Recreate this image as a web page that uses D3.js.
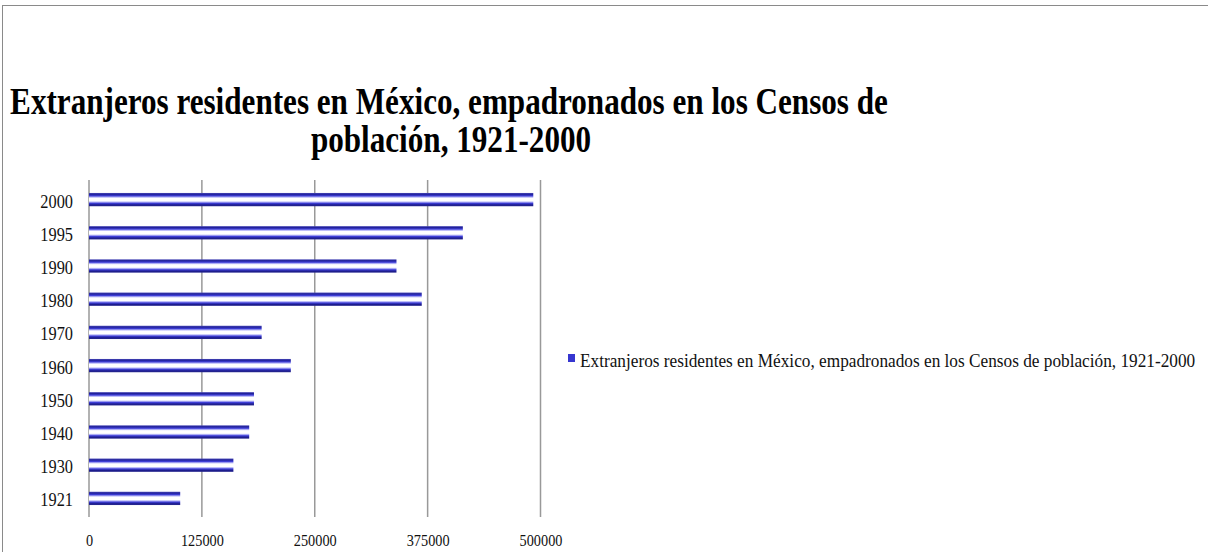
<!DOCTYPE html>
<html><head><meta charset="utf-8">
<script src="https://cdn.jsdelivr.net/npm/d3@7"></script>
<style>html,body{margin:0;padding:0;background:#fff;}svg{display:block;}</style>
</head><body>
<svg id="chart" width="1208" height="552"></svg>
<script>
const categories = ["2000","1995","1990","1980","1970","1960","1950","1940","1930","1921"];
const values = [492000, 414000, 340500, 368500, 191200, 223500, 182700, 177400, 159900, 101000];
const tickValues = [0, 125000, 250000, 375000, 500000];
const seriesName = "Extranjeros residentes en México, empadronados en los Censos de población, 1921-2000";
const titleLines = ["Extranjeros residentes en México, empadronados en los Censos de", "población, 1921-2000"];

const svg = d3.select("#chart");
const serif = "'Liberation Serif','Times New Roman',serif";

// frame
svg.append("rect").attr("x",2.5).attr("y",5.5).attr("width",1300).attr("height",700)
  .attr("fill","none").attr("stroke","#8a8a8a").attr("stroke-width",1);

// gradient
const defs = svg.append("defs");
const g1 = defs.append("linearGradient").attr("id","barGrad").attr("x1",0).attr("y1",0).attr("x2",0).attr("y2",1);
[[0,"#4a4ab8"],[0.1,"#22229a"],[0.22,"#3d3dd6"],[0.32,"#b8b8f8"],[0.4,"#ffffff"],[0.6,"#ffffff"],[0.68,"#b8b8f8"],[0.78,"#3d3dd6"],[0.9,"#1c1c8c"],[1,"#2a2a90"]]
  .forEach(([o,c])=>g1.append("stop").attr("offset",o).attr("stop-color",c));

const x = d3.scaleLinear().domain([0,500000]).range([89,540.5]);
const y = d3.scaleBand().domain(categories).range([183,515]).paddingInner(0.6).paddingOuter(0.3);

// gridlines
svg.append("g").selectAll("line").data(tickValues).join("line")
  .attr("x1",d=>x(d)).attr("x2",d=>x(d)).attr("y1",180).attr("y2",517)
  .attr("stroke","#999").attr("stroke-width",1.5);

// bars
svg.append("g").selectAll("rect").data(categories).join("rect")
  .attr("x",x(0)).attr("y",d=>y(d)).attr("height",y.bandwidth())
  .attr("width",(d,i)=>x(values[i])-x(0)).attr("fill","url(#barGrad)");

// y labels
const yAxis = d3.axisLeft(y).tickSize(0).tickPadding(0);
const ya = svg.append("g").attr("transform","translate(73,0)").call(yAxis);
ya.select(".domain").remove();
ya.selectAll("text").attr("font-family",serif).attr("font-size",19).attr("fill","#111")
  .attr("x",0).attr("dy","0.42em").attr("transform","scale(0.86,1)");

// x labels
const xAxis = d3.axisBottom(x).tickValues(tickValues).tickSize(0).tickPadding(0).tickFormat(d3.format("d"));
const xa = svg.append("g").attr("transform","translate(0,546)").call(xAxis);
xa.select(".domain").remove();
xa.selectAll("text").attr("font-family",serif).attr("font-size",17).attr("fill","#111")
  .attr("y",0).attr("dy",0).attr("transform","scale(0.84,1)");

// title
const TFS = 37;
const t1 = svg.append("text").attr("x",449).attr("y",114).attr("text-anchor","middle")
  .attr("font-family",serif).attr("font-weight","bold").attr("font-size",TFS).attr("fill","#000").text(titleLines[0]);
const s = 878 / t1.node().getComputedTextLength();
t1.attr("transform",`translate(449,0) scale(${s},1) translate(-449,0)`);
svg.append("text").attr("x",451).attr("y",152).attr("text-anchor","middle")
  .attr("font-family",serif).attr("font-weight","bold").attr("font-size",TFS).attr("fill","#000").text(titleLines[1])
  .attr("transform",`translate(451,0) scale(${s},1) translate(-451,0)`);

// legend
const lg = svg.append("g");
lg.append("rect").attr("x",568).attr("y",354).attr("width",7).attr("height",8).attr("fill","#3636d0");
const lt = lg.append("text").attr("x",580).attr("y",367).attr("font-family",serif).attr("font-size",18.5)
  .attr("fill","#111").text(seriesName);
{
  const sc = 616 / lt.node().getComputedTextLength();
  lt.attr("transform",`translate(580,0) scale(${sc},1) translate(-580,0)`);
}
</script>
</body></html>
